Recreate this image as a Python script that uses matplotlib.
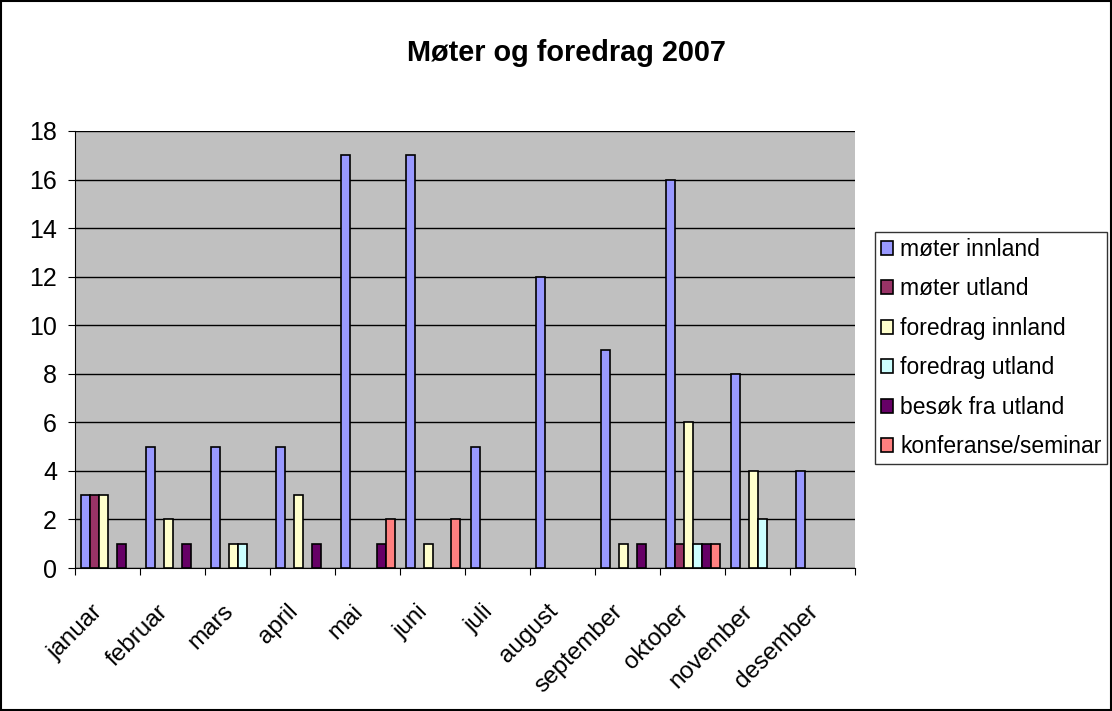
import numpy as np
import matplotlib.pyplot as plt
import matplotlib as mpl
from matplotlib.patches import Rectangle

mpl.rcParams['font.family'] = ['Liberation Sans', 'DejaVu Sans']

maaneder = ['januar', 'februar', 'mars', 'april', 'mai', 'juni', 'juli',
            'august', 'september', 'oktober', 'november', 'desember']
serier = ['møter innland', 'møter utland', 'foredrag innland',
          'foredrag utland', 'besøk fra utland', 'konferanse/seminar']
moter_innland = [3, 5, 5, 5, 17, 17, 5, 12, 9, 16, 8, 4]
moter_utland = [3, 0, 0, 0, 0, 0, 0, 0, 0, 1, 0, 0]
foredrag_innland = [3, 2, 1, 3, 0, 1, 0, 0, 1, 6, 4, 0]
foredrag_utland = [0, 0, 1, 0, 0, 0, 0, 0, 0, 1, 2, 0]
besok_utland = [1, 1, 0, 1, 1, 0, 0, 0, 1, 1, 0, 0]
konferanse = [0, 0, 0, 0, 2, 2, 0, 0, 0, 1, 0, 0]
farger = ['#9999FF', '#993366', '#FFFFCC', '#CCFFFF', '#660066', '#FF8080']

data = [moter_innland, moter_utland, foredrag_innland,
        foredrag_utland, besok_utland, konferanse]

fig = plt.figure(figsize=(11.12, 7.11), dpi=100)
fig.patches.append(Rectangle((0.001, 0.001), 0.998, 0.997, transform=fig.transFigure,
                             fill=False, edgecolor='black', lw=1.5))
ax = fig.add_axes([75/1112, 1-568/711, 780/1112, 437/711])
ax.set_facecolor('#C0C0C0')

x = np.arange(len(maaneder))
w = 0.138
start = 0.092
for i, (navn, verdier) in enumerate(zip(serier, data)):
    v = np.array(verdier, dtype=float)
    # Excel tegner ikke null-søyler
    v[v == 0] = np.nan
    ax.bar(x + start + i*w, v, width=w, align='edge', color=farger[i],
           edgecolor='black', lw=1.2, label=navn, zorder=3)

ax.set_xlim(0, 12)
ax.set_ylim(0, 18)
ax.set_yticks(range(0, 19, 2))
ax.yaxis.grid(True, color='black', lw=1, zorder=0)
ax.set_xticks(np.arange(0, 13), minor=False)
ax.set_xticklabels([])
ax.set_xticks(x + 0.38, minor=True)
ax.set_xticklabels(maaneder, minor=True, rotation=45, ha='right', va='center',
                   rotation_mode='anchor', fontsize=17.5)
ax.tick_params(axis='x', which='minor', length=0, pad=29)
ax.tick_params(axis='x', which='major', direction='out', length=5)
ax.tick_params(axis='y', direction='out', length=5, labelsize=18, pad=8)
for s in ['top', 'right']:
    ax.spines[s].set_visible(False)
for s in ['left', 'bottom']:
    ax.spines[s].set_color('black')

fig.text(566/1112, 1-53/711, 'Møter og foredrag 2007', ha='center', va='center',
         fontsize=20.8, fontweight='bold')

leg = fig.legend(loc='upper left', bbox_to_anchor=(875/1112, 1-232/711),
                 fontsize=16.5, frameon=True, fancybox=False, edgecolor='black',
                 handlelength=0.55, handleheight=0.55, handletextpad=0.3,
                 labelspacing=0.72, borderpad=0.25, borderaxespad=0)
leg.get_frame().set_linewidth(1)

fig.savefig('out.png', dpi=100)
